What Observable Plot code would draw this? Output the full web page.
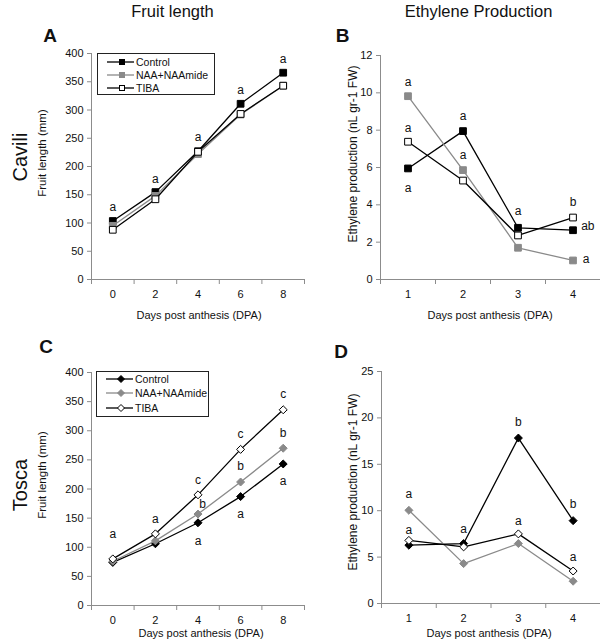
<!DOCTYPE html>
<html>
<head>
<meta charset="utf-8">
<script src="https://cdn.jsdelivr.net/npm/d3@7"></script>
<script src="https://cdn.jsdelivr.net/npm/@observablehq/plot@0.6"></script>
<style>
  html, body { margin: 0; padding: 0; background: #fff; }
  body { font-family: "Liberation Sans", Arial, Helvetica, sans-serif; color: #111; }
  #root { position: relative; width: 600px; height: 641px; overflow: hidden; }
  .t { position: absolute; white-space: nowrap; line-height: 1; transform: translate(-50%, -50%); }
  .rot { transform: translate(-50%, -50%) rotate(-90deg); }
  .pl { position: absolute; }
  .legend { position: absolute; border: 1px solid #222; background: #fff; box-sizing: border-box; }
  .legend .row { position: absolute; left: 0; height: 12px; display: flex; align-items: center; font-size: 10.5px; }
  .legend svg { display: block; }
</style>
</head>
<body>
<div id="root"></div>
<script>
// ---------------- data ----------------
const series = ["Control", "NAA+NAAmide", "TIBA"];
const fruitDays = [0, 2, 4, 6, 8];
const ethDays = [1, 2, 3, 4];

// Cavili – fruit length (mm)
const caviliLenControl = [103.5, 154.7, 227, 311, 366];
const caviliLenNAA     = [95, 148, 222, 292, 343];
const caviliLenTIBA    = [88, 142, 226, 293, 343];
// Cavili – ethylene production (nL gr-1 FW)
const caviliEthControl = [5.95, 7.95, 2.77, 2.64];
const caviliEthNAA     = [9.82, 5.86, 1.70, 1.02];
const caviliEthTIBA    = [7.38, 5.30, 2.36, 3.32];
// Tosca – fruit length (mm)
const toscaLenControl = [74, 106, 142, 187, 243];
const toscaLenNAA     = [76, 111, 157, 212, 270];
const toscaLenTIBA    = [80, 123, 190, 268, 336];
// Tosca – ethylene production
const toscaEthControl = [6.28, 6.46, 17.83, 8.93];
const toscaEthNAA     = [10.04, 4.30, 6.46, 2.40];
const toscaEthTIBA    = [6.80, 6.10, 7.50, 3.50];

// significance letters: [day, value, letter]
const lettersA = [[0,128,"a"],[2,178,"a"],[4,252,"a"],[6,335,"a"],[8,390,"a"]];
const lettersB = [[1,10.59,"a"],[1,8.11,"a"],[1,4.91,"a"],[2,8.77,"a"],[2,6.64,"a"],[3,3.68,"a"],[4,4.13,"b"],[4.27,2.86,"ab"],[4.24,1.07,"a"]];
const lettersC = [[0,123,"a"],[2,148.6,"a"],[4,215.4,"c"],[4.22,174,"b"],[4,110,"a"],[6,294,"c"],[6,239,"b"],[6,157,"a"],[8,362,"c"],[8,296,"b"],[8,213,"a"]];
const lettersD = [[1,11.77,"a"],[1,7.9,"a"],[2,7.96,"a"],[3,19.55,"b"],[3,8.9,"a"],[4,10.69,"b"],[4,4.95,"a"]];

// axis ticks
const lenTicks = [0, 50, 100, 150, 200, 250, 300, 350, 400];
const ethTicksCavili = [0, 2, 4, 6, 8, 10, 12];
const ethTicksTosca = [0, 5, 10, 15, 20, 25];

// ---------------- styles ----------------
const lineColor = {"Control": "#000", "NAA+NAAmide": "#8a8a8a", "TIBA": "#000"};
const fillColor = {"Control": "#000", "NAA+NAAmide": "#8a8a8a", "TIBA": "#fff"};
const markStroke = {"Control": "#000", "NAA+NAAmide": "#8a8a8a", "TIBA": "#000"};
const axisGray = "#8c8c8c";
const fmt = d3.format("d");

function tidy(days, arrays) {
  return series.flatMap((s, i) => days.map((d, j) => ({series: s, day: d, value: arrays[i][j]})));
}

function panel({days, arrays, letters, yTicks, yMax, symbol, r, width, height, margins}) {
  const data = tidy(days, arrays);
  const step = days[1] - days[0];
  const bounds = [days[0] - step / 2, ...days.map(d => d + step / 2)];
  const marks = [
    Plot.ruleY([0], {stroke: axisGray, strokeWidth: 1}),
    Plot.ruleX([bounds[0]], {stroke: axisGray, strokeWidth: 1}),
    Plot.axisX({ticks: bounds, tickSize: 5, stroke: axisGray, fill: "none", anchor: "bottom", label: null}),
    Plot.axisX({ticks: days, tickFormat: fmt, tickSize: 0, tickPadding: 11, anchor: "bottom", fontSize: 11, fill: "#111", label: null}),
    Plot.axisY({ticks: yTicks, tickFormat: fmt, tickSize: 4, tickPadding: 4, stroke: axisGray, anchor: "left", fontSize: 11, fill: "#111", label: null})
  ];
  for (const s of series) {
    const sd = data.filter(d => d.series === s);
    marks.push(Plot.line(sd, {x: "day", y: "value", stroke: lineColor[s], strokeWidth: 1.3}));
    marks.push(Plot.dot(sd, {x: "day", y: "value", symbol, r, fill: fillColor[s], stroke: markStroke[s], strokeWidth: 1}));
  }
  marks.push(Plot.text(letters, {x: d => d[0], y: d => d[1], text: d => d[2], fontSize: 12, fill: "#111"}));
  return Plot.plot({
    width, height,
    marginLeft: margins[0], marginRight: margins[1], marginTop: margins[2], marginBottom: margins[3],
    style: {background: "transparent", overflow: "visible", maxWidth: "none", fontFamily: "Liberation Sans, Arial, sans-serif"},
    x: {type: "linear", domain: [bounds[0], bounds[bounds.length - 1]], label: null},
    y: {type: "linear", domain: [0, yMax], label: null},
    marks
  });
}

const root = document.getElementById("root");
function place(el, left, top) {
  const w = document.createElement("div");
  w.className = "pl";
  w.style.left = left + "px";
  w.style.top = top + "px";
  w.appendChild(el);
  root.appendChild(w);
}
function label(text, x, y, size, opts = {}) {
  const d = document.createElement("div");
  d.className = "t" + (opts.rot ? " rot" : "");
  d.textContent = text;
  d.style.left = x + "px";
  d.style.top = y + "px";
  d.style.fontSize = size + "px";
  if (opts.bold) d.style.fontWeight = "bold";
  root.appendChild(d);
}
function legend(left, top, w, h, rows, symbol) {
  const box = document.createElement("div");
  box.className = "legend";
  Object.assign(box.style, {left: left + "px", top: top + "px", width: w + "px", height: h + "px"});
  series.forEach((s, i) => {
    const row = document.createElement("div");
    row.className = "row";
    row.style.top = (rows[i] - top - 6 - 1) + "px";
    const ns = "http://www.w3.org/2000/svg";
    const svg = document.createElementNS(ns, "svg");
    svg.setAttribute("width", 38); svg.setAttribute("height", 12);
    const ln = document.createElementNS(ns, "line");
    Object.entries({x1: 9, x2: 36, y1: 6, y2: 6, stroke: lineColor[s], "stroke-width": 1.3}).forEach(([k, v]) => ln.setAttribute(k, v));
    svg.appendChild(ln);
    let m;
    if (symbol === "square") {
      m = document.createElementNS(ns, "rect");
      Object.entries({x: 21.5, y: 3.5, width: 5, height: 5}).forEach(([k, v]) => m.setAttribute(k, v));
    } else {
      m = document.createElementNS(ns, "path");
      m.setAttribute("d", "M24,2.5L27.5,6L24,9.5L20.5,6Z");
    }
    m.setAttribute("fill", fillColor[s]); m.setAttribute("stroke", markStroke[s]); m.setAttribute("stroke-width", 1);
    svg.appendChild(m);
    row.appendChild(svg);
    const tx = document.createElement("span");
    tx.textContent = s;
    row.appendChild(tx);
    box.appendChild(row);
  });
  root.appendChild(box);
}

// Panel A
place(panel({days: fruitDays, arrays: [caviliLenControl, caviliLenNAA, caviliLenTIBA], letters: lettersA,
  yTicks: lenTicks, yMax: 400, symbol: "square", r: 3.8, width: 310, height: 320, margins: [91, 6, 53, 41]}), 0, 0);
// Panel B
place(panel({days: ethDays, arrays: [caviliEthControl, caviliEthNAA, caviliEthTIBA], letters: lettersB,
  yTicks: ethTicksCavili, yMax: 12, symbol: "square", r: 3.8, width: 300, height: 320, margins: [80, 0, 55, 41]}), 300, 0);
// Panel C
place(panel({days: fruitDays, arrays: [toscaLenControl, toscaLenNAA, toscaLenTIBA], letters: lettersC,
  yTicks: lenTicks, yMax: 400, symbol: "diamond2", r: 3.6, width: 310, height: 321, margins: [91, 6, 52, 36]}), 0, 320);
// Panel D
place(panel({days: ethDays, arrays: [toscaEthControl, toscaEthNAA, toscaEthTIBA], letters: lettersD,
  yTicks: ethTicksTosca, yMax: 25, symbol: "diamond2", r: 3.6, width: 300, height: 321, margins: [81, 0, 51, 38]}), 300, 320);

// legends
legend(97, 53, 118, 42, [61.5, 74.5, 87.5], "square");
legend(96, 371, 113, 46, [378.5, 393, 408], "diamond");

// titles and labels
label("Fruit length", 172.5, 11, 16.5);
label("Ethylene Production", 478.5, 11, 16.5);
label("A", 50, 35, 19, {bold: true});
label("B", 342.5, 35, 19, {bold: true});
label("C", 46, 346, 19, {bold: true});
label("D", 341, 351, 19, {bold: true});
label("Cavili", 20, 157, 20, {rot: true});
label("Tosca", 20, 485, 20, {rot: true});
label("Fruit length (mm)", 43, 153, 11.5, {rot: true});
label("Fruit length (mm)", 43, 475, 11.5, {rot: true});
label("Ethylene production (nL gr-1 FW)", 353, 154, 12, {rot: true});
label("Ethylene production (nL gr-1 FW)", 353, 482, 12, {rot: true});
label("Days post anthesis (DPA)", 199, 315, 11);
label("Days post anthesis (DPA)", 490, 315, 11);
label("Days post anthesis (DPA)", 201, 633, 11);
label("Days post anthesis (DPA)", 489, 633, 11);
</script>
</body>
</html>
